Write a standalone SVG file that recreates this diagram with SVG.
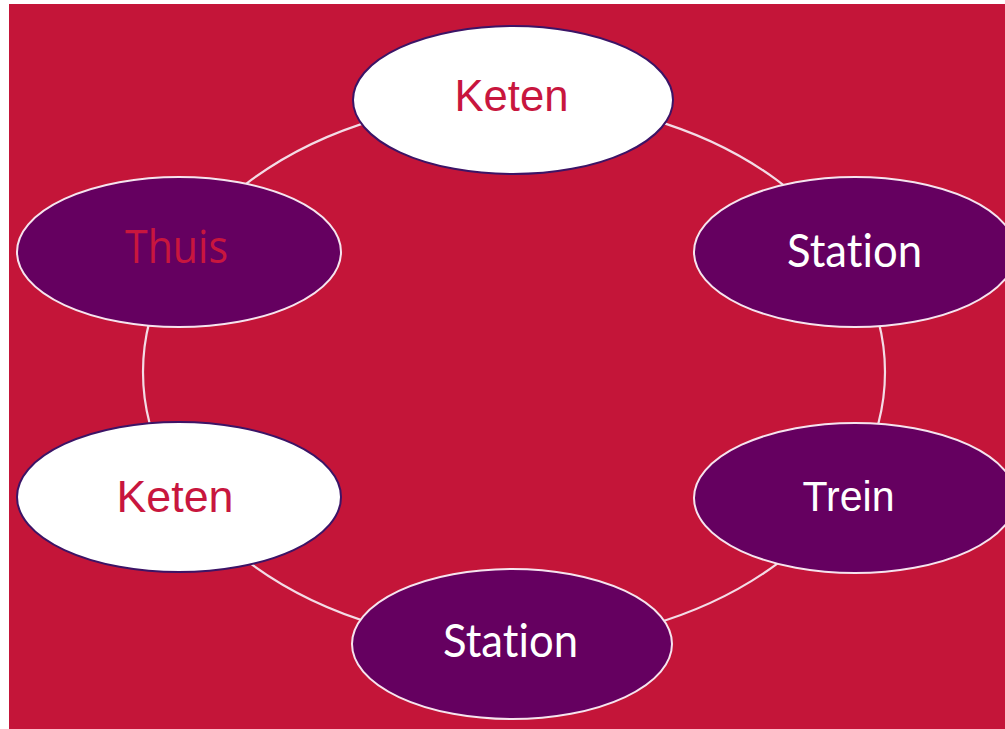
<svg xmlns="http://www.w3.org/2000/svg" width="1005" height="729" viewBox="0 0 1005 729">
<style>
.bg{fill:#C41539}
.ring{fill:none;stroke:#F3DCE6;stroke-width:2.2}
.wn{fill:#FFFFFF;stroke:#3C1466;stroke-width:2}
.pn{fill:#650060;stroke:#F6E4EE;stroke-width:2}
.t{text-anchor:middle;font-variant-ligatures:none}
.keten{font-family:"Liberation Sans",Arial,sans-serif;font-size:45px;fill:#C8163E}
.station{font-family:Lato,"Open Sans",sans-serif;font-size:47px;fill:#FFFFFF}
.trein{font-family:"Liberation Sans",Arial,sans-serif;font-size:43px;fill:#FFFFFF}
.thuis{font-family:"Open Sans","Noto Sans",sans-serif;font-size:46px;fill:#C8163E}
</style>
<rect x="0" y="0" width="1005" height="729" fill="#FFFFFF"/>
<rect class="bg" x="9" y="4" width="996" height="725"/>
<g id="connectors">
<ellipse class="ring" cx="514" cy="372" rx="371" ry="272"/>
</g>
<g id="node-keten-top">
<ellipse class="wn" cx="513" cy="100" rx="160" ry="74"/>
<text class="t keten" x="511.5" y="111" textLength="114" lengthAdjust="spacingAndGlyphs">Keten</text>
</g>
<g id="node-thuis">
<ellipse class="pn" cx="179" cy="252" rx="162" ry="75"/>
<text class="t thuis" x="176.5" y="263" textLength="103" lengthAdjust="spacingAndGlyphs">Thuis</text>
</g>
<g id="node-station-right">
<ellipse class="pn" cx="855" cy="252" rx="161" ry="75"/>
<text class="t station" x="854.5" y="267" textLength="135" lengthAdjust="spacingAndGlyphs">Station</text>
</g>
<g id="node-trein">
<ellipse class="pn" cx="855" cy="498" rx="161" ry="75"/>
<text class="t trein" x="848.5" y="511" textLength="92" lengthAdjust="spacingAndGlyphs">Trein</text>
</g>
<g id="node-keten-left">
<ellipse class="wn" cx="179" cy="497" rx="162" ry="75"/>
<text class="t keten" x="175" y="512" textLength="117" lengthAdjust="spacingAndGlyphs">Keten</text>
</g>
<g id="node-station-bottom">
<ellipse class="pn" cx="512" cy="644" rx="160" ry="75"/>
<text class="t station" x="510.5" y="657" textLength="135" lengthAdjust="spacingAndGlyphs">Station</text>
</g>
</svg>
